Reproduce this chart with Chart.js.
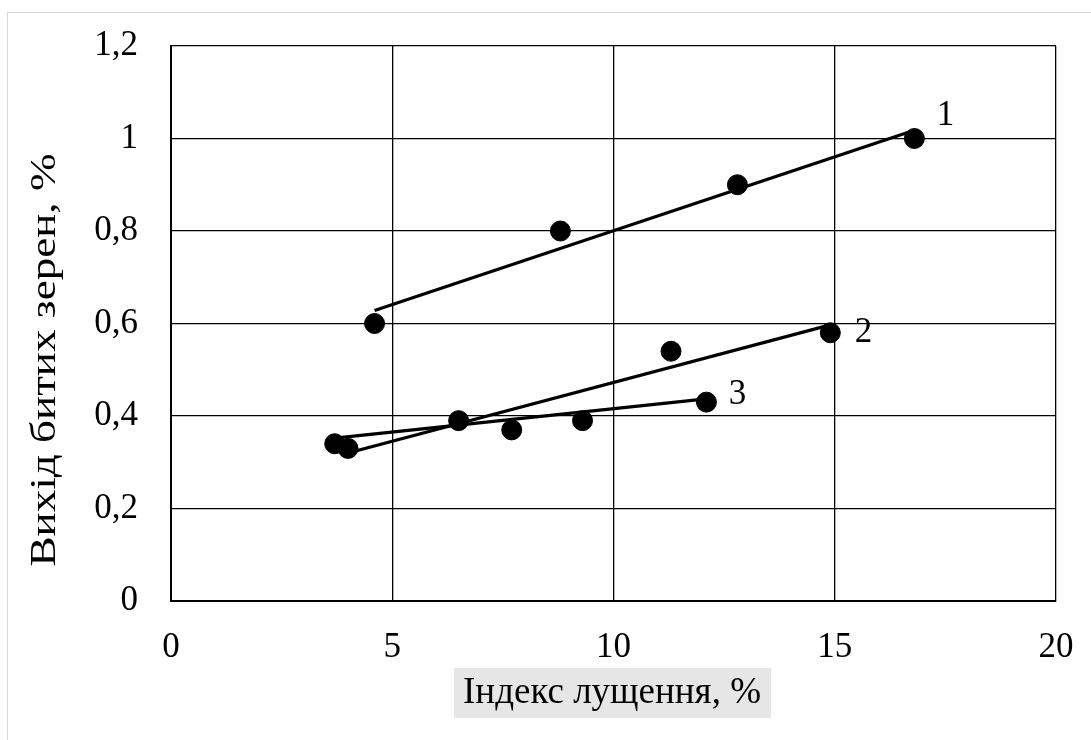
<!DOCTYPE html>
<html>
<head>
<meta charset="utf-8">
<script src="https://cdn.jsdelivr.net/npm/chart.js@4.4.1/dist/chart.umd.min.js"></script>
<style>
  html, body { margin: 0; padding: 0; background: #fff; overflow: hidden; }
  #wrap { position: relative; width: 1091px; height: 740px; }
  #frame { position: absolute; left: 7px; top: 12px; width: 1200px; height: 900px; border: 1px solid #d9d9d9; box-sizing: border-box; pointer-events: none; }
  canvas { position: absolute; left: 0; top: 0; }
</style>
</head>
<body>
<div id="wrap">
  <div id="frame"></div>
  <canvas id="c" width="1091" height="740"></canvas>
</div>
<script>
// Series 1
const x1 = [4.6, 8.8, 12.8, 16.8];
const y1 = [0.60, 0.80, 0.90, 1.00];
// Series 2
const x2 = [4.0, 6.5, 11.3, 14.9];
const y2 = [0.33, 0.39, 0.54, 0.58];
// Series 3
const x3 = [3.7, 7.7, 9.3, 12.1];
const y3 = [0.34, 0.37, 0.39, 0.43];
// Trend line endpoints
const trend1X = [4.6, 16.8];
const trend1Y = [0.628, 1.018];
const trend2X = [4.0, 14.9];
const trend2Y = [0.32, 0.597];
const trend3X = [3.7, 12.1];
const trend3Y = [0.352, 0.437];
// Curve labels
const curveLabels = ["1", "2", "3"];
const labelX = [17.5, 15.65, 12.8];
const labelY = [1.05, 0.58, 0.445];
// Axis texts
const xTitle = "Індекс лущення, %";
const yTitle = "Вихід битих зерен, %";
const xTicks = [0, 5, 10, 15, 20];
const yTicks = [0, 0.2, 0.4, 0.6, 0.8, 1, 1.2];

const FONT = "'Liberation Serif', 'Times New Roman', serif";
const toPts = (xs, ys) => xs.map((x, i) => ({x: x, y: ys[i]}));

const pointDs = (xs, ys, lbl) => ({
  type: 'scatter', label: lbl, data: toPts(xs, ys),
  pointRadius: 10, pointHoverRadius: 10, backgroundColor: '#000', borderColor: '#000', showLine: false
});
const lineDs = (xs, ys, lbl) => ({
  type: 'line', label: lbl, data: toPts(xs, ys),
  borderColor: '#000', borderWidth: 3.2, pointRadius: 0, fill: false, tension: 0
});

const extras = {
  id: 'extras',
  beforeDraw(chart) {
    const ctx = chart.ctx, a = chart.chartArea;
    ctx.save();
    ctx.fillStyle = '#e6e6e6';
    ctx.fillRect(454, a.bottom + 67, 317, 50);
    ctx.restore();
  },
  afterDraw(chart) {
    const ctx = chart.ctx, a = chart.chartArea;
    const xs = chart.scales.x, ys = chart.scales.y;
    ctx.save();
    ctx.fillStyle = '#000';
    ctx.font = '35px ' + FONT;
    ctx.textAlign = 'center';
    ctx.textBaseline = 'middle';
    curveLabels.forEach((t, i) => {
      ctx.fillText(t, xs.getPixelForValue(labelX[i]), ys.getPixelForValue(labelY[i]));
    });
    // x title
    ctx.font = '37px ' + FONT;
    ctx.fillText(xTitle, 612, a.bottom + 92);
    // y title (stretched along its length as in the reference)
    ctx.font = '35px ' + FONT;
    const w = ctx.measureText(yTitle).width;
    ctx.translate(46, 360);
    ctx.rotate(-Math.PI / 2);
    ctx.scale(413 / w, 1);
    ctx.fillText(yTitle, 0, 0);
    ctx.restore();
  }
};

new Chart(document.getElementById('c'), {
  data: {
    datasets: [
      lineDs(trend1X, trend1Y, 'Лінія 1'),
      lineDs(trend2X, trend2Y, 'Лінія 2'),
      lineDs(trend3X, trend3Y, 'Лінія 3'),
      pointDs(x1, y1, '1'),
      pointDs(x2, y2, '2'),
      pointDs(x3, y3, '3')
    ]
  },
  options: {
    responsive: false,
    animation: false,
    layout: { padding: { left: 0, top: 46, right: 35, bottom: 0 } },
    plugins: { legend: { display: false }, tooltip: { enabled: false } },
    scales: {
      x: {
        type: 'linear', min: 0, max: 20,
        afterBuildTicks: s => { s.ticks = xTicks.map(v => ({value: v})); },
        afterFit: s => { s.height = 139; },
        grid: { color: '#000', lineWidth: 1.3, drawTicks: true, tickLength: 26, tickColor: 'rgba(0,0,0,0)' },
        border: { color: '#000', width: 2 },
        ticks: { color: '#000', font: { family: FONT, size: 35 }, padding: 0, maxRotation: 0 }
      },
      y: {
        type: 'linear', min: 0, max: 1.2,
        afterBuildTicks: s => { s.ticks = yTicks.map(v => ({value: v})); },
        afterFit: s => { s.width = 171; },
        grid: { color: '#000', lineWidth: 1.3, drawTicks: true, tickLength: 33, tickColor: 'rgba(0,0,0,0)' },
        border: { color: '#000', width: 2 },
        ticks: {
          color: '#000', font: { family: FONT, size: 35 }, padding: 0,
          callback: v => String(Math.round(v * 10) / 10).replace('.', ',')
        }
      }
    }
  },
  plugins: [extras]
});
</script>
</body>
</html>
